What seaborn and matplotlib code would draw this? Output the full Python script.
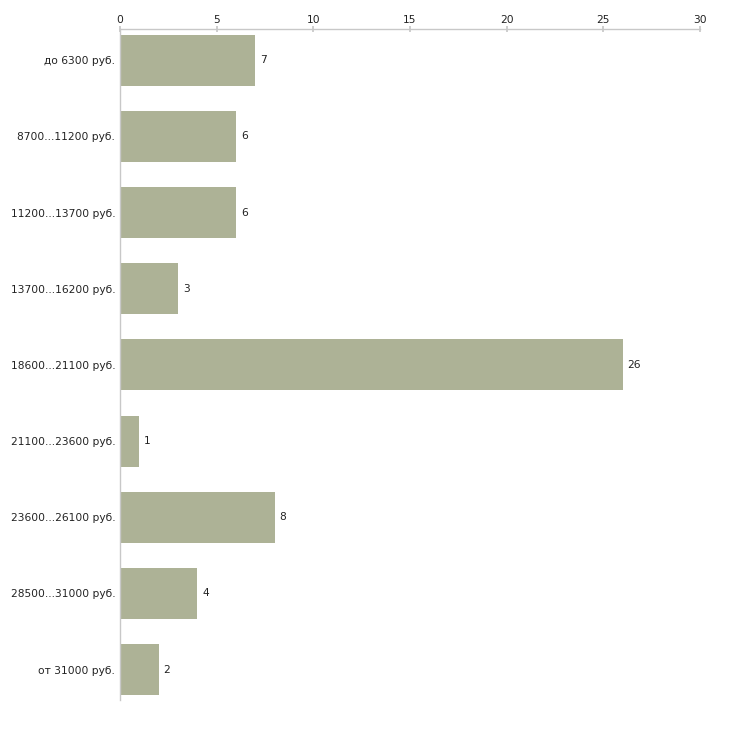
import matplotlib
matplotlib.use("Agg")
import matplotlib.pyplot as plt
import seaborn as sns
import pandas as pd

categories = ["до 6300 руб.", "8700...11200 руб.", "11200...13700 руб.", "13700...16200 руб.",
              "18600...21100 руб.", "21100...23600 руб.", "23600...26100 руб.",
              "28500...31000 руб.", "от 31000 руб."]
values = [7, 6, 6, 3, 26, 1, 8, 4, 2]
xticks = [0, 5, 10, 15, 20, 25, 30]

sns.set_theme(style="white")
plt.rcParams['font.family'] = ['DejaVu Sans']

df = pd.DataFrame({"cat": categories, "val": values})

fig = plt.figure(figsize=(7.3, 7.3), dpi=100)
ax = fig.add_axes([120/730, 30/730, 580/730, (700-29)/730])
sns.barplot(data=df, x="val", y="cat", color="#adb296", saturation=1, width=0.67,
            linewidth=0, edgecolor="none", ax=ax)

ax.set_xlim(0, 30)
ax.set_ylim(8.4, -0.41)
ax.xaxis.tick_top()
ax.set_xticks(xticks)
ax.set_xticklabels([str(t) for t in xticks])
ax.set_xlabel("")
ax.set_ylabel("")
for s in ["right", "bottom"]:
    ax.spines[s].set_visible(False)
for s in ["top", "left"]:
    ax.spines[s].set_color("#c8c8c8")
    ax.spines[s].set_linewidth(1)
ax.tick_params(axis="x", direction="inout", length=4, color="#c8c8c8", labelsize=7.7, pad=1, labelcolor="#222222")
ax.tick_params(axis="y", direction="out", length=2, color="#c8c8c8", labelsize=7.7, pad=1.5, labelcolor="#222222")

for i, v in enumerate(values):
    ax.text(v + 0.25, i, str(v), va="center", ha="left", fontsize=7.7, color="#222222")

fig.savefig("out.png", dpi=100)
